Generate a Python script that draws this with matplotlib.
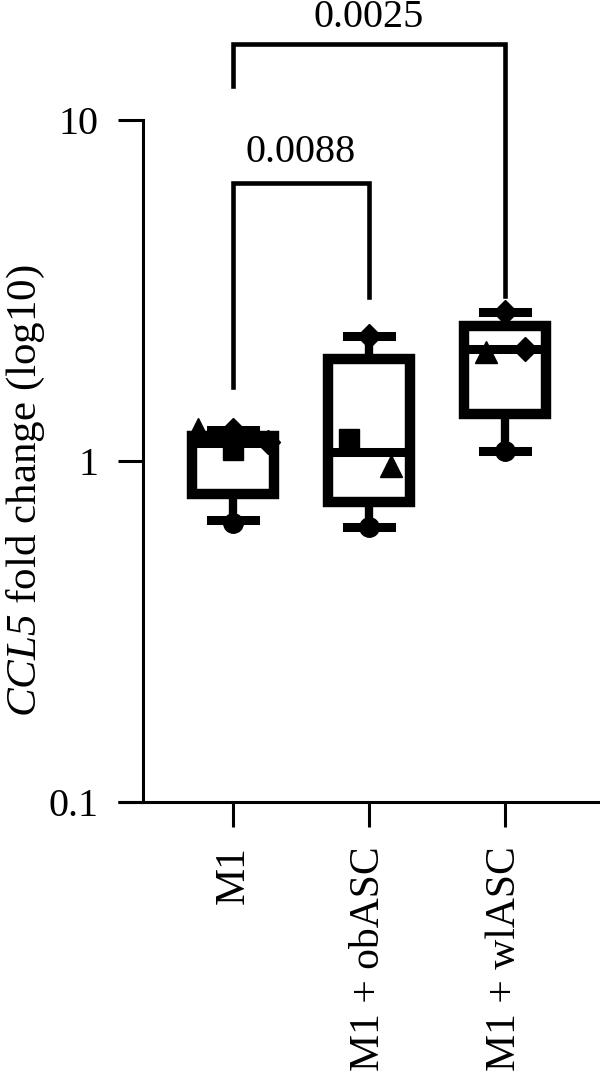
import numpy as np
import matplotlib
matplotlib.use('Agg')
import matplotlib.pyplot as plt

plt.rcParams['font.family'] = ['Liberation Serif', 'DejaVu Serif']
plt.rcParams['mathtext.fontset'] = 'custom'
# digits inside math fall back to the 'rm' slot, so make both italic
plt.rcParams['mathtext.rm'] = 'Liberation Serif:italic'
plt.rcParams['mathtext.it'] = 'Liberation Serif:italic'

#----------------------------------------------------------------------
# data
#----------------------------------------------------------------------
groups   = ['M1', 'M1 + obASC', 'M1 + wlASC']
whislo   = [0.67, 0.64, 1.07]
q1       = [0.80, 0.76, 1.37]
med      = [1.13, 1.06, 2.13]
q3       = [1.18, 1.99, 2.49]
whishi   = [1.23, 2.33, 2.73]

# replicate points: (group index, x offset, value, marker)
pt_group  = [0, 0, 0, 0, 0,   1, 1, 1, 1,   2, 2, 2, 2]
pt_offset = [-0.26, 0.0, 0.0, 0.26, 0.0,   0.0, -0.15, 0.16, 0.0,   0.0, -0.14, 0.15, 0.0]
pt_value  = [1.24, 1.23, 1.08, 1.14, 0.66,   2.33, 1.16, 0.97, 0.64,   2.73, 2.09, 2.13, 1.07]
pt_marker = ['^', 'D', 's', 'D', 'o',   'D', 's', '^', 'o',   'D', '^', 'D', 'o']

pvals     = ['0.0088', '0.0025']
pv_pairs  = [(0, 1), (0, 2)]
pv_height = [6.54, 16.7]
pv_legs   = [(1.65, 3.03), (12.6, 3.05)]
pv_gap    = [15, 12]

fs = 29

fig = plt.figure(figsize=(6, 10.77), dpi=100)
ax = fig.add_axes([143/600, 275/1077, 457/600, 682/1077])

pos = np.arange(len(groups))
stats = []
for i in range(len(groups)):
    stats.append(dict(whislo=whislo[i], q1=q1[i], med=med[i], q3=q3[i],
                      whishi=whishi[i], fliers=[]))

for g, dx, v, m in zip(pt_group, pt_offset, pt_value, pt_marker):
    ms = {'^': 16, 'D': 12, 's': 14, 'o': 14}[m]
    ax.plot(pos[g] + dx, v, marker=m, color='black', markersize=ms,
            linestyle='none', zorder=3)

ax.bxp(stats, positions=pos, widths=0.6, capwidths=0.33, patch_artist=True,
       showfliers=False,
       boxprops=dict(facecolor='none', edgecolor='black', linewidth=7.5),
       medianprops=dict(color='black', linewidth=6.5),
       whiskerprops=dict(color='black', linewidth=6),
       capprops=dict(color='black', linewidth=6.5),
       zorder=4)

ax.set_yscale('log')
ax.set_ylim(0.1, 10)
ax.set_xlim(-0.662, 2.699)
ax.set_yticks([0.1, 1, 10])
ax.set_yticklabels(['0.1', '1', '10'])
ax.yaxis.set_minor_locator(matplotlib.ticker.NullLocator())
ax.set_xticks(pos)
ax.set_xticklabels(groups, rotation=90, va='top', ha='center', fontsize=30)

ax.tick_params(axis='both', length=18, width=2.2, color='black')
ax.tick_params(axis='y', pad=14, labelsize=fs)
ax.tick_params(axis='x', pad=14)

for s in ['top', 'right']:
    ax.spines[s].set_visible(False)
for s in ['left', 'bottom']:
    ax.spines[s].set_linewidth(2.2)
# bottom axis line runs out to the left as far as the y ticks
ax.plot([-25/457, 0], [0, 0], transform=ax.transAxes, color='black',
        linewidth=2.2, clip_on=False, solid_capstyle='butt')

ax.set_ylabel(r'$CCL5$ fold change (log10)', fontsize=31)
ax.yaxis.set_label_coords(-0.21, 0.457)

# significance brackets
for (a, b), h, (la, lb), txt, gap in zip(pv_pairs, pv_height, pv_legs, pvals, pv_gap):
    ax.plot([pos[a], pos[a], pos[b], pos[b]], [la, h, h, lb], color='black',
            linewidth=3.3, clip_on=False, solid_joinstyle='miter')
    ax.annotate(txt, xy=((pos[a] + pos[b]) / 2, h), xytext=(0, gap),
                textcoords='offset points', ha='center', va='baseline',
                fontsize=fs, annotation_clip=False)

fig.savefig('out.png', dpi=100)
